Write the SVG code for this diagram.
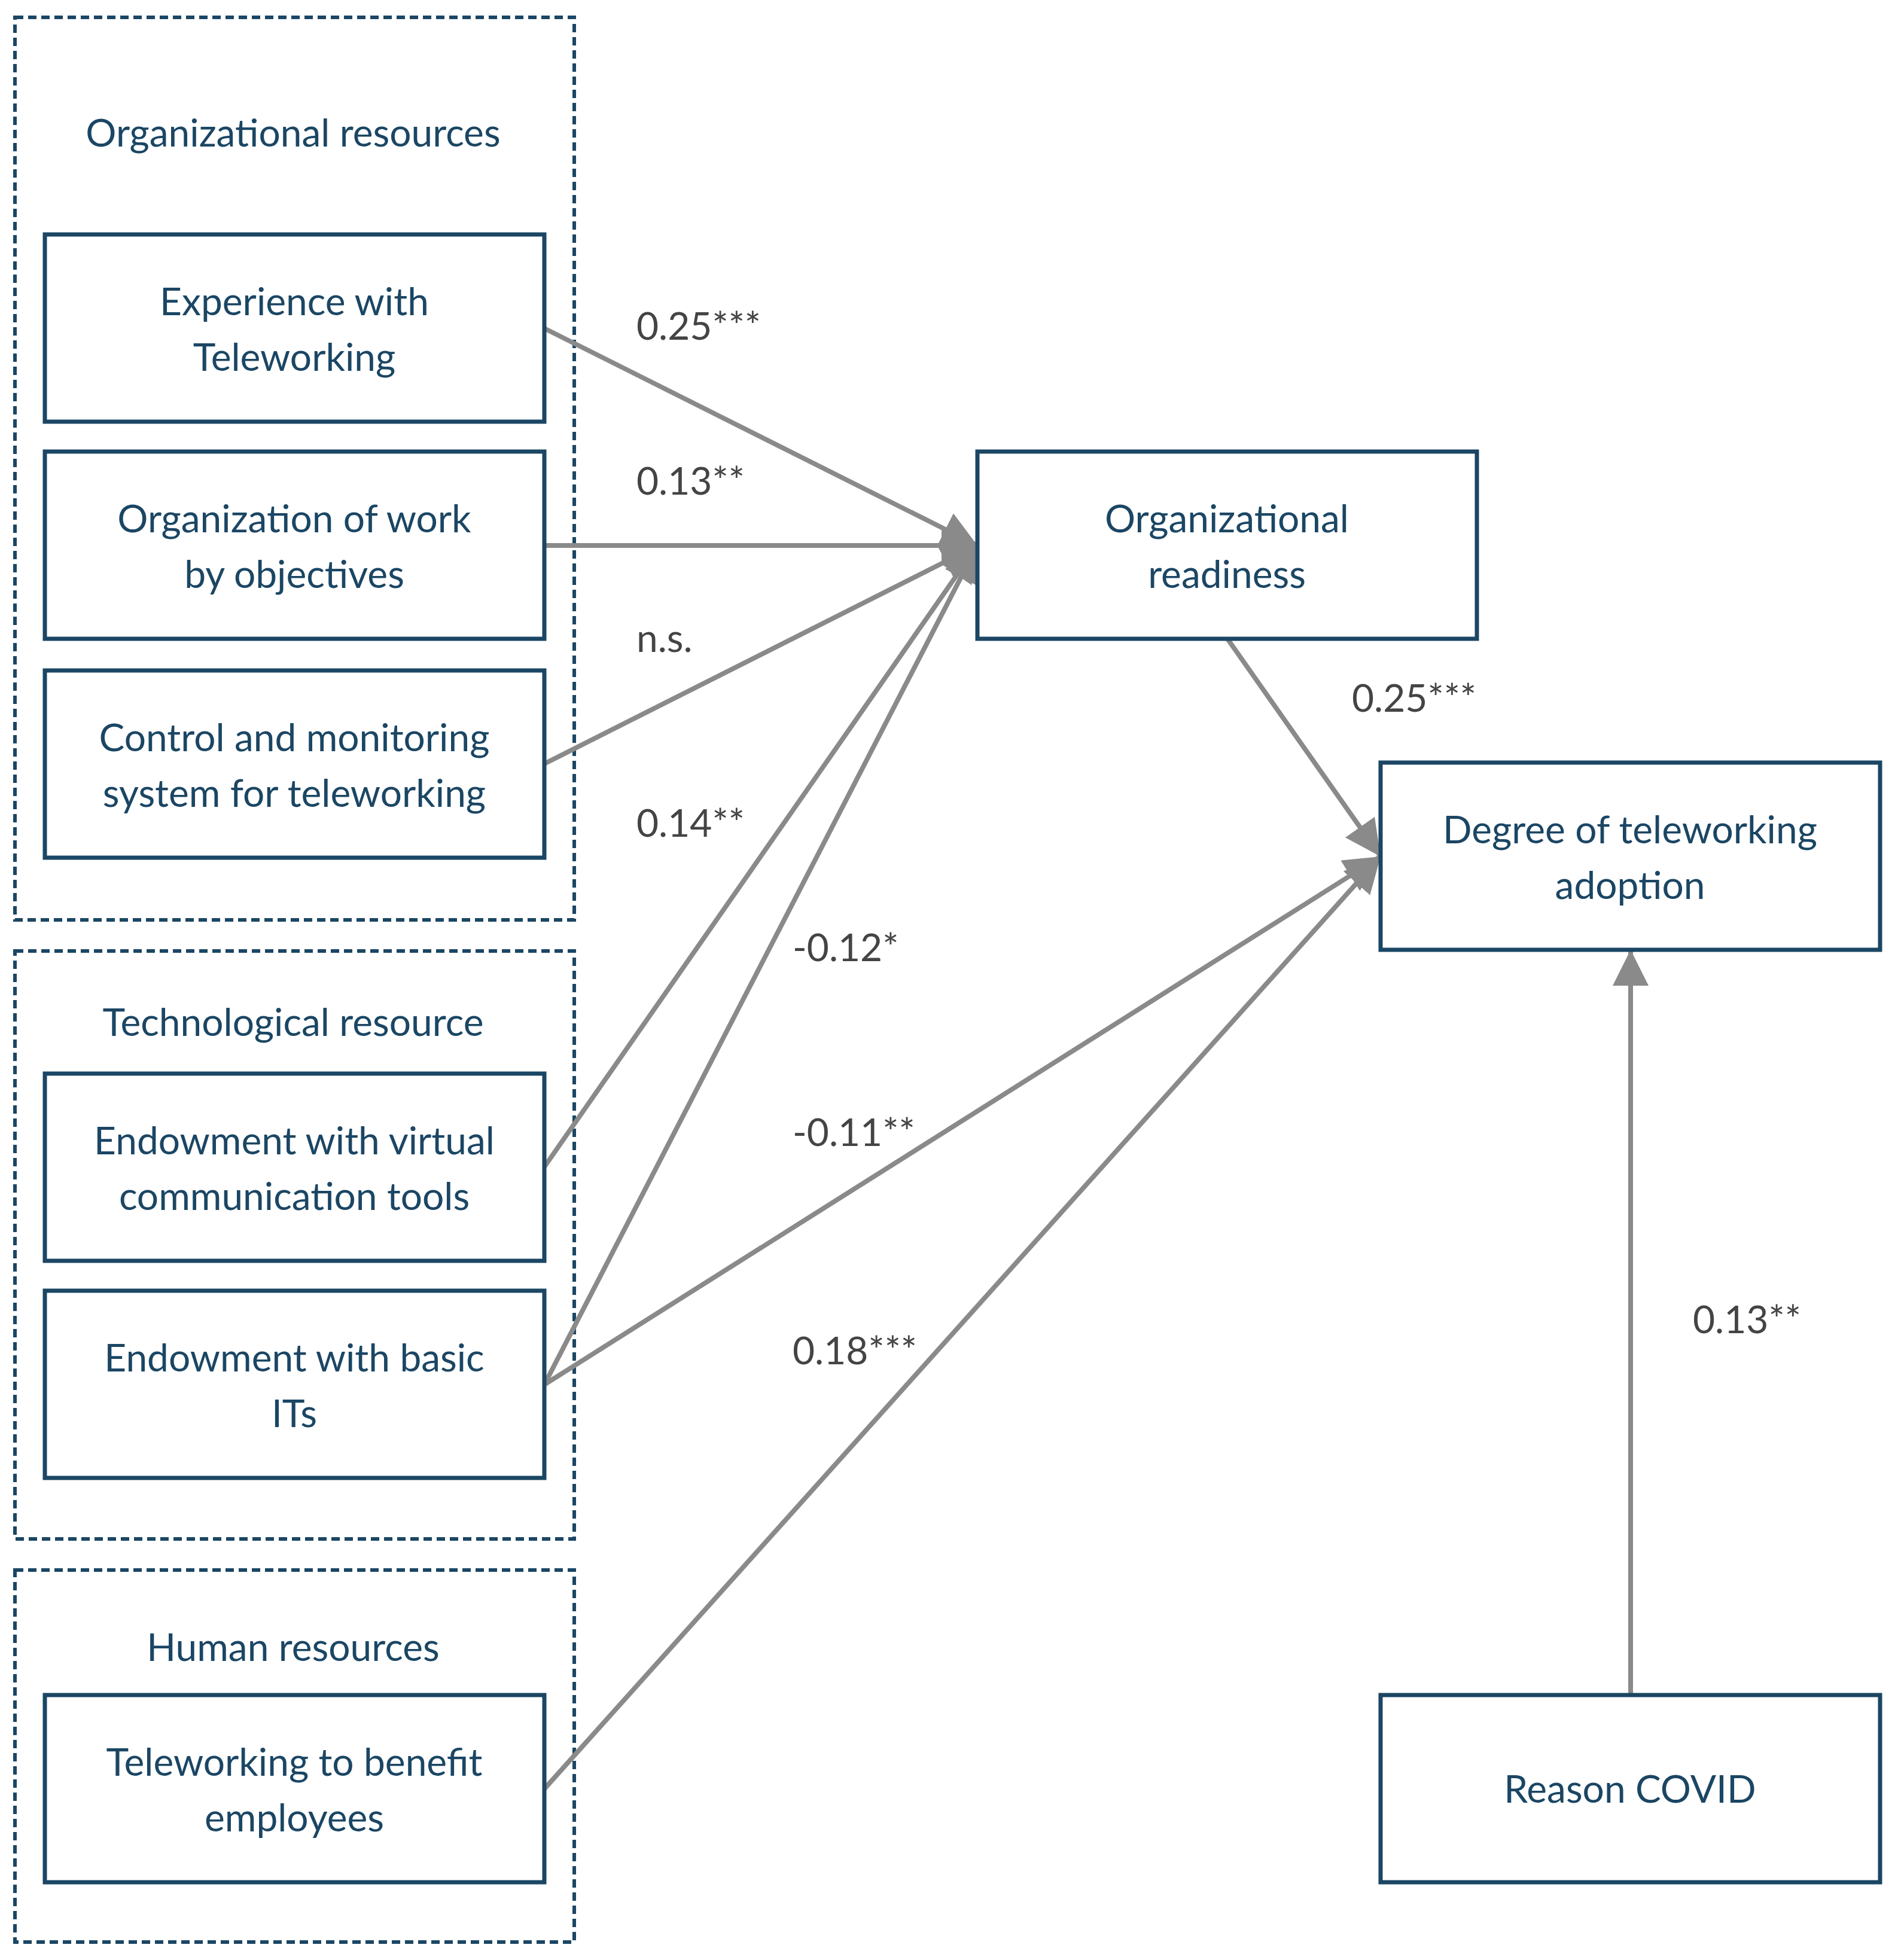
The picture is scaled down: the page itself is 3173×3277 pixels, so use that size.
<svg xmlns="http://www.w3.org/2000/svg" width="3173" height="3277" viewBox="0 0 3173 3277">
<style>
.grp{fill:none;stroke:#1b4664;stroke-width:6;stroke-dasharray:14 8}
.nd{fill:#fff;stroke:#1b4664;stroke-width:7}
.t{font-family:Lato,"Liberation Sans",sans-serif;font-size:64px;fill:#1b4664;text-anchor:middle}
.l{font-family:Lato,"Liberation Sans",sans-serif;font-size:64px;fill:#444}
.c{stroke:#8a8a8a;stroke-width:8;fill:none;marker-end:url(#ah)}
</style>
<defs><marker id="ah" markerUnits="userSpaceOnUse" markerWidth="70" markerHeight="70" refX="60" refY="30" orient="auto"><path d="M0,0 L60,30 L0,60 Z" fill="#8a8a8a"/></marker></defs>
<rect width="3173" height="3277" fill="#fff"/>
<g id="groups">
<rect class="grp" x="25" y="29" width="935" height="1509"/>
<text class="t" x="490" y="245">Organizational resources</text>
<rect class="grp" x="25" y="1590" width="935" height="983"/>
<text class="t" x="490" y="1732">Technological  resource</text>
<rect class="grp" x="25" y="2625" width="935" height="622"/>
<text class="t" x="490" y="2777">Human resources</text>
</g>
<g id="connectors">
<line class="c" x1="910" y1="549" x2="1634" y2="912"/>
<line class="c" x1="910" y1="912" x2="1634" y2="912"/>
<line class="c" x1="910" y1="1277" x2="1634" y2="912"/>
<line class="c" x1="910" y1="1951" x2="1634" y2="912"/>
<line class="c" x1="910" y1="2315" x2="1634" y2="912"/>
<line class="c" x1="910" y1="2315" x2="2308" y2="1432"/>
<line class="c" x1="910" y1="2991" x2="2308" y2="1432"/>
<line class="c" x1="2052" y1="1068" x2="2308" y2="1432"/>
<line class="c" x1="2726" y1="2834" x2="2726" y2="1588"/>
<text class="l" x="1064" y="568">0.25***</text>
<text class="l" x="1064" y="827">0.13**</text>
<text class="l" x="1064" y="1090">n.s.</text>
<text class="l" x="1064" y="1399">0.14**</text>
<text class="l" x="1325" y="1607">-0.12*</text>
<text class="l" x="1325" y="1916">-0.11**</text>
<text class="l" x="1325" y="2281">0.18***</text>
<text class="l" x="2260" y="1190">0.25***</text>
<text class="l" x="2830" y="2229">0.13**</text>
</g>
<g id="n1"><rect class="nd" x="75" y="392" width="835" height="313"/><text class="t" x="492" y="527">Experience with</text><text class="t" x="492" y="620">Teleworking</text></g>
<g id="n2"><rect class="nd" x="75" y="755" width="835" height="313"/><text class="t" x="492" y="890">Organization of work</text><text class="t" x="492" y="983">by objectives</text></g>
<g id="n3"><rect class="nd" x="75" y="1121" width="835" height="313"/><text class="t" x="492" y="1256">Control and monitoring</text><text class="t" x="492" y="1349">system for teleworking</text></g>
<g id="n4"><rect class="nd" x="75" y="1795" width="835" height="313"/><text class="t" x="492" y="1930">Endowment with virtual</text><text class="t" x="492" y="2023">communication tools</text></g>
<g id="n5"><rect class="nd" x="75" y="2158" width="835" height="313"/><text class="t" x="492" y="2293">Endowment with basic</text><text class="t" x="492" y="2386">ITs</text></g>
<g id="n6"><rect class="nd" x="75" y="2834" width="835" height="313"/><text class="t" x="492" y="2969">Teleworking  to benefit</text><text class="t" x="492" y="3062">employees</text></g>
<g id="n7"><rect class="nd" x="1634" y="755" width="835" height="313"/><text class="t" x="2051" y="890">Organizational</text><text class="t" x="2051" y="983">readiness</text></g>
<g id="n8"><rect class="nd" x="2308" y="1275" width="835" height="313"/><text class="t" x="2725" y="1410">Degree of teleworking</text><text class="t" x="2725" y="1503">adoption</text></g>
<g id="n9"><rect class="nd" x="2308" y="2834" width="835" height="313"/><text class="t" x="2725" y="3014">Reason COVID</text></g>
</svg>
